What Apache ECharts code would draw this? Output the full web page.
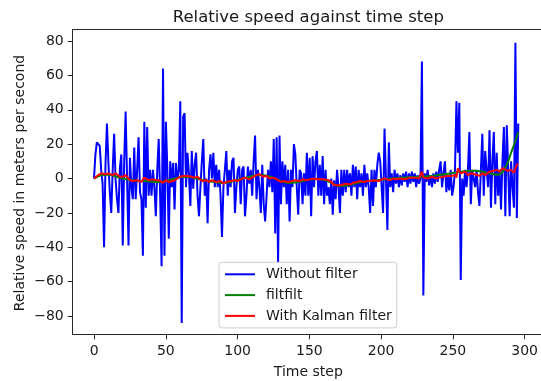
<!DOCTYPE html>
<html>
<head>
<meta charset="utf-8">
<script src="https://cdn.jsdelivr.net/npm/echarts@6/dist/echarts.min.js"></script>
<style>
html,body{margin:0;padding:0;background:#fff;}
#chart{width:541px;height:381px;}
</style>
</head>
<body>
<div id="chart"></div>
<script>
// ---- data ----
const seriesNames = ['Without filter', 'filtfilt', 'With Kalman filter'];
const titleText = 'Relative speed against time step';
const xLabelText = 'Time step';
const yLabelText = 'Relative speed in meters per second';
const xTicks = [0, 50, 100, 150, 200, 250, 300];
const yTicks = [-80, -60, -40, -20, 0, 20, 40, 60, 80];

// raw speed, one value per time step (t = 0..295)
const rawSpeed = [
  0, 14, 21, 22, 19, 5, -3, -40, 8, 32,
  10, -8, -20, 5, 26, 0, -12, -20, 6, 14,
  -39, 10, 39, 0, -39, 12, -5, -12, 18, -12,
  5, 24, -8, -12, -45, 33, -17, 30, -10, 5,
  -10, 5, -5, -22, 5, 23, -10, -51, 64, -45,
  33, 5, -35, 10, -5, 9, -18, 9, 0, 5,
  45, -84, 36, 38, -5, 15, 3, -16, 16, -6,
  8, 15, -10, -22, -5, 10, 23, -10, 0, -26,
  5, 14, 0, 15, -5, 8, -5, 5, -10, -34,
  -5, 5, 16, -10, 5, -5, 10, 12, -20, -5,
  5, 7, -15, 5, 7, -22, -10, 7, -3, 5,
  -10, 10, 25, -12, 5, -5, -20, 8, -15, -25,
  -10, 5, -5, 10, -8, 23, -32, 24, -49, 25,
  -15, 10, -5, 8, -15, 5, -25, 5, -5, 20,
  14, -5, -21, 5, 3, -15, 3, -10, 15, -10,
  12, -22, 13, -5, 10, 16, -10, 8, -10, 13,
  -15, 5, -10, -5, -15, 0, -21, -1, -12, 5,
  -5, -20, 5, -10, 5, -8, 5, -5, 3, -10,
  8, -5, 7, -12, 5, -5, 3, -10, 8, -5,
  3, -5, -20, 5, -16, 5, -5, 8, 15, 10,
  -5, -20, 29, 0, -30, 21, -5, 3, -8, 5,
  -3, 3, -5, 2, -4, 3, -2, 4, -5, 3,
  -3, 4, -2, 3, -5, 2, -3, 0, 68, -68,
  3, -2, 5, -4, 2, -5, 3, -3, 4, -2,
  5, 10, -5, 3, 10, -8, 2, -7, 5, -10,
  -5, 5, 45, 15, 44, -59, 0, -10, 5, -5,
  5, 27, -15, 5, 0, -5, 5, -8, -16, 5,
  26, -10, 16, 5, -5, 28, -17, 10, 27, -15,
  15, -10, 5, -18, 10, 30, -22, 31, 5, -22,
  10, -5, -17, 79, -23, 32
];

// filtfilt output, sampled
const filtT = [0,5,10,15,20,25,30,35,40,45,50,55,60,65,70,75,80,85,90,95,100,105,110,115,120,125,130,135,140,145,150,155,160,165,170,175,180,185,190,195,200,205,210,215,220,225,230,235,240,245,250,255,260,265,270,275,280,283,285,288,290,292,294,295];
const filtV = [0,1.8,2.2,1.2,0,-0.8,-1.3,-1.5,-1.8,-2,-1.5,-0.3,0.8,1,0.3,-0.8,-1.6,-2.2,-2.6,-2,-0.8,0.3,1.5,2,1.6,0.3,-1.5,-2.6,-2.4,-1.5,-0.6,-0.3,-0.8,-2.5,-4.2,-4.2,-3.2,-2.2,-1.5,-1.1,-0.7,-0.2,0.2,0.5,0.8,1,1.2,1.5,2,2.6,3.3,4,4.4,4.5,3.9,3,2.2,3,5,10,15,19.5,24.5,27];

// Kalman filter output, sampled
const kalT = [0,3,5,8,10,13,15,18,20,22,25,27,30,33,35,38,40,43,45,48,50,52,55,58,60,62,65,68,70,72,75,78,80,82,85,88,90,92,95,98,100,103,105,108,110,113,115,118,120,122,125,128,130,132,135,138,140,143,145,148,150,153,155,158,160,163,165,167,170,173,175,178,180,183,185,188,190,193,195,198,200,202,204,206,208,210,213,215,218,220,223,226,228,229,232,235,238,240,243,246,249,251,252,253,255,258,260,262,265,268,270,272,275,278,280,282,284,286,288,290,292,294,295];
const kalV = [0,2,3,2.5,3,2,3,1,1,2,-1,-1.5,-1,-2,0.5,-1,-0.5,-1,-1,-2.5,-1,-2,-1.5,0,1,1.5,1.5,1,0.5,1,-1.5,-1,-2,-1,-2,-1.5,-3,-2,-1.5,-1,-1.5,0,0.5,-0.5,0.5,2,2.5,1,1.5,0,0.5,-1,-2,-1.5,-2,-1.5,-1,-1.5,-0.5,-1,-0.5,0,-0.5,-0.5,-0.5,-1,-2,-4,-4,-3.5,-3,-3.5,-2.5,-2,-1.5,-2,-1.5,-1.5,-1,-1.5,-0.5,0,-0.5,-1,0,-0.5,0,-0.5,0,0.5,0.5,0,4,0.5,0,1,0,0.5,1,1.5,1.5,2,0.5,6,3,4,2,3,2.5,1.5,3,2,4,4.5,5,4,6,5,4.5,5,3.5,8,8.5];

// ---- chart ----
const FONT = 'DejaVu Sans';
const TXT = '#1a1a1a';
const FRAME = '#262626';
const minusFmt = v => (v < 0 ? '\u2212' + Math.abs(v) : String(v));
const pairs = (ts, vs) => ts.slice(0, Math.min(ts.length, vs.length)).map((t, i) => [t, vs[i]]);
const frameLine = {show: true, onZero: false, lineStyle: {color: FRAME, width: 1}};

const chart = echarts.init(document.getElementById('chart'), null, {renderer: 'canvas'});
chart.setOption({
  animation: false,
  backgroundColor: '#ffffff',
  grid: [
    {left: 72.7, top: 29.7, width: 471.3, height: 304.6},
    {left: 94.1, top: 29.7, width: 434.3, height: 304.6},
    {left: 72.7, top: 41, width: 471.3, height: 275}
  ],
  xAxis: [
    {gridIndex: 0, type: 'value', min: -14.8, max: 310.8, position: 'bottom',
      axisLine: frameLine, axisTick: {show: false}, axisLabel: {show: false}, splitLine: {show: false}},
    {gridIndex: 1, type: 'value', min: xTicks[0], max: xTicks[xTicks.length - 1], interval: xTicks[1] - xTicks[0],
      axisLine: {show: false}, splitLine: {show: false},
      axisTick: {show: true, length: 5, lineStyle: {color: FRAME, width: 1}},
      axisLabel: {fontSize: 14, color: TXT, fontFamily: FONT, margin: 10, formatter: minusFmt}},
    {gridIndex: 2, type: 'value', min: 0, max: 1, show: false},
    {gridIndex: 0, type: 'value', min: -14.8, max: 310.8, position: 'top',
      axisLine: frameLine, axisTick: {show: false}, axisLabel: {show: false}, splitLine: {show: false}}
  ],
  yAxis: [
    {gridIndex: 0, type: 'value', min: -90.65, max: 86.57, position: 'left',
      axisLine: frameLine, axisTick: {show: false}, axisLabel: {show: false}, splitLine: {show: false}},
    {gridIndex: 1, type: 'value', min: 0, max: 1, show: false},
    {gridIndex: 2, type: 'value', min: yTicks[0], max: yTicks[yTicks.length - 1], interval: yTicks[1] - yTicks[0],
      axisLine: {show: false}, splitLine: {show: false},
      axisTick: {show: true, length: 5, lineStyle: {color: FRAME, width: 1}},
      axisLabel: {fontSize: 14, color: TXT, fontFamily: FONT, margin: 9, formatter: minusFmt}}
  ],
  legend: {
    orient: 'vertical', left: 219, top: 262.3, padding: [5, 5, 5, 5],
    itemWidth: 30, itemHeight: 14, itemGap: 6.8,
    itemStyle: {opacity: 0},
    backgroundColor: 'rgba(255,255,255,0.85)', borderColor: '#cccccc', borderWidth: 1, borderRadius: 3,
    textStyle: {fontSize: 14, color: TXT, fontFamily: FONT, padding: [0, 0, 0, 6]},
    data: seriesNames
  },
  graphic: [
    {type: 'text', x: 308.3, y: 18, style: {text: titleText, fontSize: 16.5, fontFamily: FONT, fill: TXT, textAlign: 'center', textVerticalAlign: 'middle'}},
    {type: 'text', x: 308.3, y: 372, style: {text: xLabelText, fontSize: 14, fontFamily: FONT, fill: TXT, textAlign: 'center', textVerticalAlign: 'middle'}},
    {type: 'text', x: 20.5, y: 183, rotation: Math.PI / 2, style: {text: yLabelText, fontSize: 14, fontFamily: FONT, fill: TXT, textAlign: 'center', textVerticalAlign: 'middle'}}
  ],
  series: [
    {name: seriesNames[0], type: 'line', xAxisIndex: 0, yAxisIndex: 0, symbol: 'none',
      lineStyle: {color: '#0000ff', width: 2}, itemStyle: {color: '#0000ff'},
      data: rawSpeed.map((v, i) => [i, v])},
    {name: seriesNames[1], type: 'line', xAxisIndex: 0, yAxisIndex: 0, symbol: 'none', smooth: 0.3,
      lineStyle: {color: '#008000', width: 2}, itemStyle: {color: '#008000'},
      data: pairs(filtT, filtV)},
    {name: seriesNames[2], type: 'line', xAxisIndex: 0, yAxisIndex: 0, symbol: 'none',
      lineStyle: {color: '#ff0000', width: 2}, itemStyle: {color: '#ff0000'},
      data: pairs(kalT, kalV)}
  ]
});
</script>
</body>
</html>
